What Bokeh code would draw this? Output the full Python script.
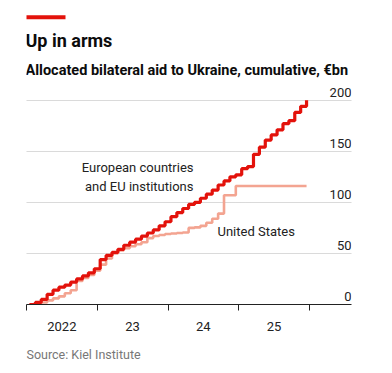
from bokeh.plotting import figure
from bokeh.models import Label, BoxAnnotation, FixedTicker, ColumnDataSource, Range1d, Title
from bokeh.embed import file_html
from bokeh.resources import INLINE
from bokeh.core.properties import value

months = [f"{y}-{m:02d}" for y in (2022, 2023, 2024, 2025) for m in range(1, 13)]

europe = [0, 2, 5, 10, 14, 17, 19, 22, 25, 28, 31, 35,
          44, 48, 51, 54, 58, 61, 64, 67, 70, 73, 77, 81,
          86, 90, 94, 98, 100, 104, 108, 112, 117, 121, 125, 127,
          133, 135, 147, 154, 161, 166, 171, 177, 180, 188, 194, 200]

us = [0, 0.5, 2, 4, 6, 8, 11, 14, 23, 26, 29, 33,
      39, 45, 50, 53, 55, 57, 59, 61, 65, 67, 68, 69,
      69.5, 70, 70.5, 75, 75.5, 77, 80, 84, 89, 107, 107, 116,
      116, 116, 116, 116, 116, 116, 116, 116, 116, 116, 116, 116]

y_ticks = [0, 50, 100, 150, 200]
y_tick_labels = ["0", "50", "100", "150", "200"]
year_ticks = [2022, 2023, 2024, 2025, 2026]
year_labels = ["2022", "23", "24", "25"]

title = "Up in arms"
subtitle = "Allocated bilateral aid to Ukraine, cumulative, €bn"
source_note = "Source: Kiel Institute"

RED = "#E3120B"
PINK = "#F3A491"
FONT = "Roboto"

# geometry (canvas px): frame left 26, right 351, top 0, bottom 307
PX_PER_YEAR = 70.75
PX_PER_UNIT = 1.0315
FR_LEFT, FR_RIGHT, FR_TOP, FR_BOTTOM = 26, 351, 0, 307

def vy(py):
    return (FR_BOTTOM - py) / PX_PER_UNIT

def vx(px):
    return 2022 + (px - FR_LEFT) / PX_PER_YEAR

x_month = [int(s[:4]) + (int(s[5:]) - 1 + 0.5) / 12 for s in months]

W, H = 384, 373
p = figure(width=W, height=H, output_backend="svg", toolbar_location=None,
           x_range=Range1d(2022, vx(FR_RIGHT)), y_range=Range1d(0, vy(FR_TOP)),
           min_border_left=FR_LEFT, min_border_right=W - FR_RIGHT,
           min_border_top=FR_TOP, min_border_bottom=H - FR_BOTTOM)
p.outline_line_color = None
p.background_fill_color = "white"
p.border_fill_color = "white"
p.yaxis.visible = False
p.xgrid.visible = False
p.ygrid.ticker = FixedTicker(ticks=y_ticks[1:])
p.ygrid.grid_line_color = "#B5B5B5"
p.ygrid.grid_line_dash = "1 1"
p.ygrid.grid_line_width = 1

mid = [y + 0.5 for y in year_ticks[:-1]]
p.xaxis.ticker = FixedTicker(ticks=mid, minor_ticks=year_ticks)
p.xaxis.major_label_overrides = {m: l for m, l in zip(mid, year_labels)}
p.xaxis.major_tick_out = 0
p.xaxis.major_tick_in = 0
p.xaxis.minor_tick_out = 6
p.xaxis.minor_tick_in = 0
p.xaxis.minor_tick_line_color = "#222222"
p.xaxis.minor_tick_line_width = 1
p.xaxis.axis_line_color = "#222222"
p.xaxis.axis_line_width = 1
p.xaxis.major_label_standoff = 11
p.xaxis.major_label_text_font = FONT
p.xaxis.major_label_text_font_size = "13px"
p.xaxis.major_label_text_color = "#222222"

src = ColumnDataSource(dict(x=x_month, eu=europe, us=us))
p.step("x", "us", source=src, mode="after", line_width=2.6, line_color=PINK)
p.step("x", "eu", source=src, mode="after", line_width=3.2, line_color=RED)

tsrc = ColumnDataSource(dict(x=[vx(FR_RIGHT)] * len(y_ticks), y=y_ticks, t=y_tick_labels))
p.text("x", "y", "t", source=tsrc, text_align="right", text_baseline="middle",
       y_offset=-8, text_font=value(FONT), text_font_size="13px", text_color="#222222")

def lab(text, px, py, size, align="left", color="#0C0C0C", bold=False):
    p.add_layout(Label(x=vx(px), y=vy(py), text=text, text_align=align, text_baseline="middle",
                       text_font=FONT, text_font_size=size, text_color=color,
                       text_font_style="bold" if bold else "normal"))

lab(title, 25, 40, "18px", bold=True)
lab(subtitle, 25, 71, "14.5px", bold=True)
lab("European countries", 193, 169, "13px", align="right", color="#222222")
lab("and EU institutions", 193, 188, "13px", align="right", color="#222222")
lab("United States", 217, 233, "13px", color="#222222")

p.add_layout(BoxAnnotation(left=vx(25), right=vx(65), top=vy(15), bottom=vy(19),
                           fill_color=RED, fill_alpha=1, line_color=None))

p.add_layout(Title(text=source_note, align="left", text_font=FONT, text_font_size="12.5px",
                   text_font_style="normal", text_color="#777777", standoff=23), "below")

open("out.html", "w").write(file_html(p, INLINE))
